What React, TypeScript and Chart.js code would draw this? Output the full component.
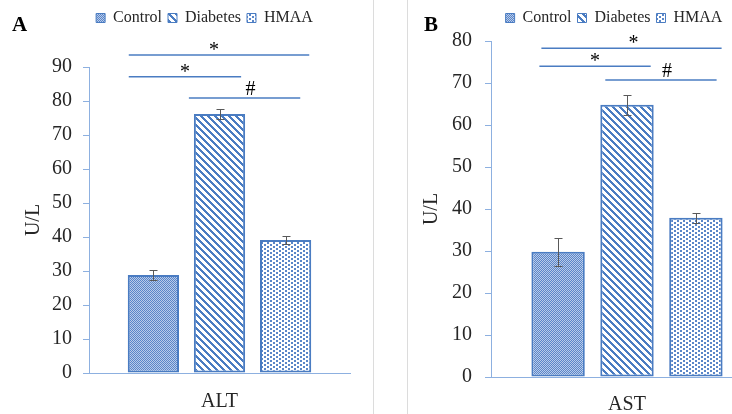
import React, { useEffect, useRef } from 'react';
import { Chart, registerables } from 'chart.js';

Chart.register(...registerables);

// ---------- data ----------
const seriesNames = ['Control', 'Diabetes', 'HMAA'];
const altCategory = ['ALT'];
const astCategory = ['AST'];
const altMeans = [28.8, 76.2, 39.1];
const altErrors = [1.5, 1.4, 1.2];
const astMeans = [29.8, 64.8, 37.9];
const astErrors = [3.4, 2.4, 1.2];
const altYMax = 90;
const astYMax = 80;
const tickStep = 10;
const sigSpans = [[0, 2], [0, 1], [1, 2]];
const altSigLabels = ['*', '*', '#'];
const altSigLevels = [93.5, 87.1, 80.9];
const astSigLabels = ['*', '*', '#'];
const astSigLevels = [78.3, 74.0, 70.7];

// ---------- style ----------
const FONT = 'Liberation Serif';
const BLUE = '#4a7cc2';
const AXIS = '#8db0e0';
const TEXT = '#262626';
const ERR = '#595959';

function makePattern(ctx: CanvasRenderingContext2D, kind: number): CanvasPattern {
  const c = document.createElement('canvas');
  const t = c.getContext('2d')!;
  if (kind === 0) {
    c.width = 2; c.height = 2;
    t.fillStyle = '#b9cbea'; t.fillRect(0, 0, 2, 2);
    t.fillStyle = '#5a86c8'; t.fillRect(0, 0, 1, 1); t.fillRect(1, 1, 1, 1);
  } else if (kind === 1) {
    const n = 7;
    c.width = n; c.height = n;
    t.fillStyle = '#ffffff'; t.fillRect(0, 0, n, n);
    t.fillStyle = BLUE;
    for (let x = 0; x < n; x++) for (let y = 0; y < n; y++) if (((x - y) % n + n) % n < 3) t.fillRect(x, y, 1, 1);
  } else {
    c.width = 6; c.height = 4;
    t.fillStyle = '#ffffff'; t.fillRect(0, 0, 6, 4);
    t.fillStyle = '#5a86c8';
    t.fillRect(0, 0, 2, 2);
    t.fillRect(3, 2, 2, 2);
  }
  return ctx.createPattern(c, 'repeat')!;
}

type PanelProps = {
  left: number; width: number; padLeft: number; yAxisW: number; xAxisH: number; spacer: number;
  tickPad: number; titlePad: number; xTickPad: number;
  category: string[]; means: number[]; errors: number[]; yMax: number;
  sigLabels: string[]; sigLevels: number[]; sigOffsets: number[][];
};

function Panel(p: PanelProps) {
  const ref = useRef<HTMLCanvasElement>(null);
  useEffect(() => {
    const canvas = ref.current!;
    const ctx = canvas.getContext('2d')!;
    const fills = [0, 1, 2].map(k => makePattern(ctx, k));
    const annot = {
      id: 'annot',
      afterDatasetsDraw(chart: any) {
        const c = chart.ctx;
        const y = chart.scales.y;
        const bars = chart.data.datasets.map((_: any, i: number) => chart.getDatasetMeta(i).data[0]);
        c.save();
        c.strokeStyle = ERR; c.lineWidth = 1;
        p.errors.forEach((e, i) => {
          const m = chart.data.datasets[i].data[0];
          const bx = Math.round(bars[i].x) + 0.5;
          const t = Math.round(y.getPixelForValue(m + e)) + 0.5;
          const b = Math.round(y.getPixelForValue(m - e)) + 0.5;
          c.beginPath();
          c.moveTo(bx, t); c.lineTo(bx, b);
          c.moveTo(bx - 4, t); c.lineTo(bx + 4, t);
          c.moveTo(bx - 4, b); c.lineTo(bx + 4, b);
          c.stroke();
        });
        c.strokeStyle = BLUE; c.lineWidth = 1.5;
        c.fillStyle = '#000';
        c.font = `20px ${FONT}`;
        c.textAlign = 'center';
        c.textBaseline = 'alphabetic';
        sigSpans.forEach(([a, b], k) => {
          const off = p.sigOffsets[k];
          const x0 = bars[a].x - bars[a].width / 2 + off[0];
          const x1 = bars[b].x + bars[b].width / 2 + off[1];
          const yy = y.getPixelForValue(p.sigLevels[k]);
          c.beginPath(); c.moveTo(x0, yy); c.lineTo(x1, yy); c.stroke();
          const lab = p.sigLabels[k];
          c.fillText(lab, (x0 + x1) / 2 + off[2], yy + (lab === '*' ? 1 : -3));
        });
        c.restore();
      },
    };
    const chart = new Chart(canvas, {
      type: 'bar',
      data: {
        labels: p.category,
        datasets: seriesNames.map((n, i) => ({
          label: n,
          data: [p.means[i]],
          backgroundColor: fills[i] as any,
          borderColor: BLUE,
          borderWidth: 2,
          borderSkipped: false,
          categoryPercentage: 0.76,
          barPercentage: 0.775,
        })),
      },
      options: {
        responsive: false,
        animation: false,
        devicePixelRatio: 1,
        layout: { padding: { left: p.padLeft, right: 23, top: 4, bottom: 0 } },
        plugins: {
          legend: {
            position: 'top',
            weight: 3000,
            labels: {
              boxWidth: 9, boxHeight: 9, padding: 6, color: TEXT,
              font: { family: FONT, size: 16 },
              generateLabels: (ch: any) =>
                (Chart.defaults.plugins.legend.labels as any).generateLabels(ch).map((l: any) => ({ ...l, lineWidth: 1 })),
            },
          } as any,
          title: { display: true, text: '', font: { size: 1, lineHeight: 1 }, padding: { top: 0, bottom: p.spacer } },
          tooltip: { enabled: false },
        },
        scales: {
          x: {
            grid: { display: false, drawTicks: false },
            border: { display: true, color: AXIS, width: 1 },
            ticks: { font: { family: FONT, size: 20 }, color: TEXT, padding: p.xTickPad },
            afterFit: (s: any) => { s.height = p.xAxisH; },
          },
          y: {
            min: 0, max: p.yMax,
            ticks: { stepSize: tickStep, font: { family: FONT, size: 20 }, color: TEXT, padding: p.tickPad },
            grid: { drawOnChartArea: false, drawTicks: true, tickLength: 6, color: AXIS },
            border: { color: AXIS, width: 1 },
            title: { display: true, text: 'U/L', font: { family: FONT, size: 20 }, color: TEXT, padding: { top: p.titlePad, bottom: 0 } },
            afterFit: (s: any) => {
              s.width = p.yAxisW;
              // let tick labels extend left of the narrow axis box without being clipped
              s._computeLabelArea = () => undefined;
            },
          },
        },
      } as any,
      plugins: [annot],
    });
    return () => chart.destroy();
  }, []);
  return <canvas ref={ref} width={p.width} height={414} style={{ position: 'absolute', left: p.left, top: 0 }} />;
}

const labelStyle: React.CSSProperties = {
  position: 'absolute', top: 14, fontFamily: FONT, fontWeight: 'bold', fontSize: 21, lineHeight: '21px', color: '#000',
};

export default function App() {
  return (
    <div style={{ position: 'absolute', left: 0, top: 0, width: 732, height: 414, overflow: 'hidden', background: '#fff' }}>
      <Panel left={0} width={373} padLeft={59} yAxisW={30} xAxisH={41} spacer={30}
        tickPad={11} titlePad={-37} xTickPad={17}
        category={altCategory} means={altMeans} errors={altErrors} yMax={altYMax}
        sigLabels={altSigLabels} sigLevels={altSigLevels}
        sigOffsets={[[1, -2, -5], [1, -4, 0], [-5, -11, 6]]} />
      <Panel left={407} width={379} padLeft={58} yAxisW={26} xAxisH={37} spacer={4}
        tickPad={13} titlePad={-45} xTickPad={16}
        category={astCategory} means={astMeans} errors={astErrors} yMax={astYMax}
        sigLabels={astSigLabels} sigLevels={astSigLevels}
        sigOffsets={[[10, -1, 2], [8, -3, 0], [5, -6, 6]]} />
      <div style={{ position: 'absolute', left: 373, top: 0, width: 1, height: 414, background: '#dcdcdc' }} />
      <div style={{ position: 'absolute', left: 407, top: 0, width: 1, height: 414, background: '#dcdcdc' }} />
      <div style={{ ...labelStyle, left: 12 }}>A</div>
      <div style={{ ...labelStyle, left: 424 }}>B</div>
    </div>
  );
}
